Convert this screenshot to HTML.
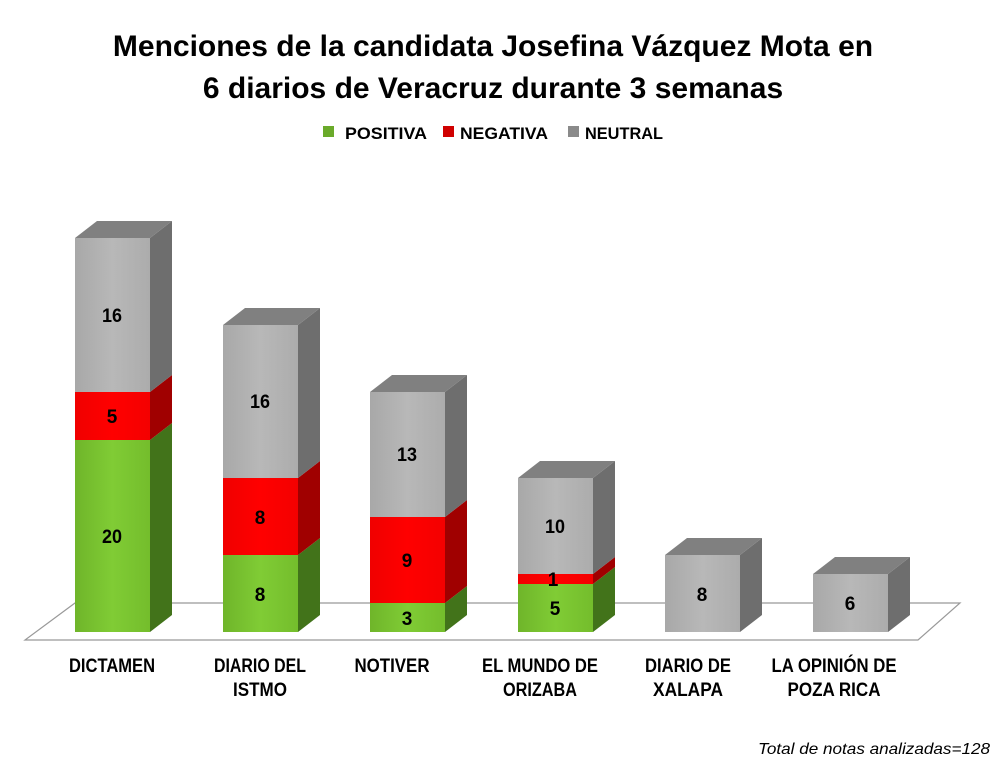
<!DOCTYPE html>
<html><head><meta charset="utf-8"><style>
html,body{margin:0;padding:0;background:#fff;}
svg{display:block;}
text{font-family:"Liberation Sans",sans-serif;}
</style></head><body>
<svg width="1006" height="778" viewBox="0 0 1006 778" xmlns="http://www.w3.org/2000/svg">
<defs>
<linearGradient id="gG" x1="0" x2="1"><stop offset="0" stop-color="#6fb52a"/><stop offset="0.5" stop-color="#80cc35"/><stop offset="1" stop-color="#74bd2c"/></linearGradient>
<linearGradient id="gR" x1="0" x2="1"><stop offset="0" stop-color="#f00000"/><stop offset="0.5" stop-color="#ff0000"/><stop offset="1" stop-color="#f40000"/></linearGradient>
<linearGradient id="gN" x1="0" x2="1"><stop offset="0" stop-color="#a8a8a8"/><stop offset="0.5" stop-color="#b8b8b8"/><stop offset="1" stop-color="#acacac"/></linearGradient>
</defs>
<text x="493" y="56" text-anchor="middle" font-size="30" font-weight="bold" fill="#000">Menciones de la candidata Josefina Vázquez Mota en</text>
<text x="493" y="98" text-anchor="middle" font-size="30" font-weight="bold" fill="#000">6 diarios de Veracruz durante 3 semanas</text>
<rect x="323" y="126" width="11" height="11" fill="#6aaa2a"/>
<text x="345" y="139" font-size="17" font-weight="bold" textLength="82" lengthAdjust="spacingAndGlyphs">POSITIVA</text>
<rect x="443" y="126" width="11" height="11" fill="#d00000"/>
<text x="460" y="139" font-size="17" font-weight="bold" textLength="88" lengthAdjust="spacingAndGlyphs">NEGATIVA</text>
<rect x="568" y="126" width="11" height="11" fill="#8a8a8a"/>
<text x="585" y="139" font-size="17" font-weight="bold" textLength="78" lengthAdjust="spacingAndGlyphs">NEUTRAL</text>
<polygon points="25,640 918,640 960,603 75,603" fill="#fff" stroke="#999" stroke-width="1.2"/>
<g font-size="19" font-weight="bold" text-anchor="middle" fill="#000">
<text x="112" y="672" textLength="86" lengthAdjust="spacingAndGlyphs">DICTAMEN</text>
<text x="260" y="672" textLength="92" lengthAdjust="spacingAndGlyphs">DIARIO DEL</text>
<text x="260" y="696" textLength="54" lengthAdjust="spacingAndGlyphs">ISTMO</text>
<text x="392" y="672" textLength="75" lengthAdjust="spacingAndGlyphs">NOTIVER</text>
<text x="540" y="672" textLength="116" lengthAdjust="spacingAndGlyphs">EL MUNDO DE</text>
<text x="540" y="696" textLength="74" lengthAdjust="spacingAndGlyphs">ORIZABA</text>
<text x="688" y="672" textLength="86" lengthAdjust="spacingAndGlyphs">DIARIO DE</text>
<text x="688" y="696" textLength="70" lengthAdjust="spacingAndGlyphs">XALAPA</text>
<text x="834" y="672" textLength="125" lengthAdjust="spacingAndGlyphs">LA OPINIÓN DE</text>
<text x="834" y="696" textLength="93" lengthAdjust="spacingAndGlyphs">POZA RICA</text>
</g>
<text x="990" y="754" text-anchor="end" font-size="16" font-style="italic" textLength="232" lengthAdjust="spacingAndGlyphs">Total de notas analizadas=128</text>
<g>
<rect x="75" y="440" width="75" height="192" fill="url(#gG)"/><polygon points="150,632 172,615 172,423 150,440" fill="#42731a"/>
<rect x="75" y="392" width="75" height="48" fill="url(#gR)"/><polygon points="150,440 172,423 172,375 150,392" fill="#a00000"/>
<rect x="75" y="238" width="75" height="154" fill="url(#gN)"/><polygon points="150,392 172,375 172,221 150,238" fill="#6e6e6e"/>
<polygon points="75,238 97,221 172,221 150,238" fill="#808080"/>
<rect x="223" y="555" width="75" height="77" fill="url(#gG)"/><polygon points="298,632 320,615 320,538 298,555" fill="#42731a"/>
<rect x="223" y="478" width="75" height="77" fill="url(#gR)"/><polygon points="298,555 320,538 320,461 298,478" fill="#a00000"/>
<rect x="223" y="325" width="75" height="153" fill="url(#gN)"/><polygon points="298,478 320,461 320,308 298,325" fill="#6e6e6e"/>
<polygon points="223,325 245,308 320,308 298,325" fill="#808080"/>
<rect x="370" y="603" width="75" height="29" fill="url(#gG)"/><polygon points="445,632 467,615 467,586 445,603" fill="#42731a"/>
<rect x="370" y="517" width="75" height="86" fill="url(#gR)"/><polygon points="445,603 467,586 467,500 445,517" fill="#a00000"/>
<rect x="370" y="392" width="75" height="125" fill="url(#gN)"/><polygon points="445,517 467,500 467,375 445,392" fill="#6e6e6e"/>
<polygon points="370,392 392,375 467,375 445,392" fill="#808080"/>
<rect x="518" y="584" width="75" height="48" fill="url(#gG)"/><polygon points="593,632 615,615 615,567 593,584" fill="#42731a"/>
<rect x="518" y="574" width="75" height="10" fill="url(#gR)"/><polygon points="593,584 615,567 615,557 593,574" fill="#a00000"/>
<rect x="518" y="478" width="75" height="96" fill="url(#gN)"/><polygon points="593,574 615,557 615,461 593,478" fill="#6e6e6e"/>
<polygon points="518,478 540,461 615,461 593,478" fill="#808080"/>
<rect x="665" y="555" width="75" height="77" fill="url(#gN)"/><polygon points="740,632 762,615 762,538 740,555" fill="#6e6e6e"/>
<polygon points="665,555 687,538 762,538 740,555" fill="#808080"/>
<rect x="813" y="574" width="75" height="58" fill="url(#gN)"/><polygon points="888,632 910,615 910,557 888,574" fill="#6e6e6e"/>
<polygon points="813,574 835,557 910,557 888,574" fill="#808080"/>
</g>
<g font-size="19" font-weight="bold" text-anchor="middle" fill="#000">
<text x="112" y="543" textLength="20" lengthAdjust="spacingAndGlyphs">20</text><text x="112" y="423">5</text><text x="112" y="322" textLength="20" lengthAdjust="spacingAndGlyphs">16</text>
<text x="260" y="601">8</text><text x="260" y="524">8</text><text x="260" y="408" textLength="20" lengthAdjust="spacingAndGlyphs">16</text>
<text x="407" y="625">3</text><text x="407" y="567">9</text><text x="407" y="461" textLength="20" lengthAdjust="spacingAndGlyphs">13</text>
<text x="555" y="615">5</text><text x="553" y="586">1</text><text x="555" y="533" textLength="20" lengthAdjust="spacingAndGlyphs">10</text>
<text x="702" y="601">8</text>
<text x="850" y="610">6</text>
</g>
</svg>
</body></html>
